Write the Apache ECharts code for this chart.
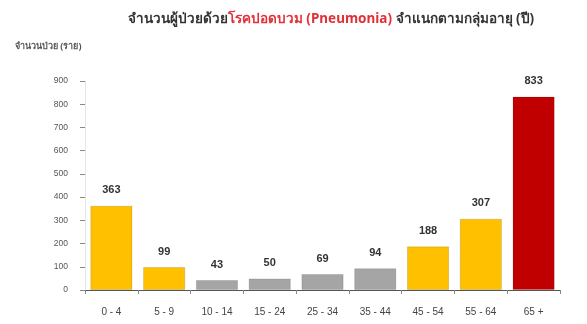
<!DOCTYPE html>
<html>
<head>
<meta charset="utf-8">
<script src="https://cdn.jsdelivr.net/npm/echarts@6/dist/echarts.min.js"></script>
<style>
  html, body { margin: 0; padding: 0; background: #ffffff; }
  #chart { width: 587px; height: 324px; }
</style>
</head>
<body>
<div id="chart"></div>
<script>
// Age groups (years) and patient counts
const ageGroups = ['0 - 4', '5 - 9', '10 - 14', '15 - 24', '25 - 34', '35 - 44', '45 - 54', '55 - 64', '65 +'];
const patients = [363, 99, 43, 50, 69, 94, 188, 307, 833];
const barColors = ['#FFC000', '#FFC000', '#A5A5A5', '#A5A5A5', '#A5A5A5', '#A5A5A5', '#FFC000', '#FFC000', '#C00000'];
const yTicks = { min: 0, max: 900, interval: 100 };

const chart = echarts.init(document.getElementById('chart'), null, { renderer: 'canvas' });

chart.setOption({
  backgroundColor: '#ffffff',
  animation: false,
  title: {
    text: '{a|จำนวนผู้ป่วยด้วย}{b|โรคปอดบวม (Pneumonia)}{a| จำแนกตามกลุ่มอายุ (ปี)}',
    left: 326,
    top: 7,
    textAlign: 'center',
    textStyle: {
      rich: {
        a: { fontFamily: 'Noto Sans', fontSize: 13.5, fontWeight: 'bold', color: '#333333' },
        b: { fontFamily: 'Noto Sans', fontSize: 13.5, fontWeight: 'bold', color: '#E2303A' }
      }
    }
  },
  graphic: [{
    type: 'text',
    left: 15,
    top: 42,
    style: {
      text: 'จำนวนป่วย (ราย)',
      font: 'bold 9px "Noto Sans"',
      fill: '#555555'
    }
  }],
  grid: { left: 85, right: 27, top: 81, bottom: 34 },
  xAxis: {
    type: 'category',
    data: ageGroups,
    axisLine: { lineStyle: { color: '#555555', width: 1.2 } },
    axisTick: { show: true, alignWithLabel: false, length: 4, lineStyle: { color: '#888888' } },
    axisLabel: { fontFamily: 'Liberation Sans', fontSize: 10, color: '#444444', margin: 17 }
  },
  yAxis: {
    type: 'value',
    min: yTicks.min,
    max: yTicks.max,
    interval: yTicks.interval,
    axisLine: { show: true, lineStyle: { color: '#E4E4E4' } },
    axisTick: { show: true, length: 5, lineStyle: { color: '#888888' } },
    splitLine: { show: false },
    axisLabel: { fontFamily: 'Liberation Sans', fontSize: 8.5, color: '#555555', margin: 17 }
  },
  series: [{
    type: 'bar',
    data: patients.map((v, i) => ({ value: v, itemStyle: { color: barColors[i] } })),
    barCategoryGap: '20%',
    itemStyle: { borderColor: 'rgba(0,0,0,0.12)', borderWidth: 1 },
    label: {
      show: true,
      position: 'top',
      distance: 10,
      fontFamily: 'Liberation Sans',
      fontSize: 11,
      fontWeight: 'bold',
      color: '#333333'
    }
  }]
});
</script>
</body>
</html>
